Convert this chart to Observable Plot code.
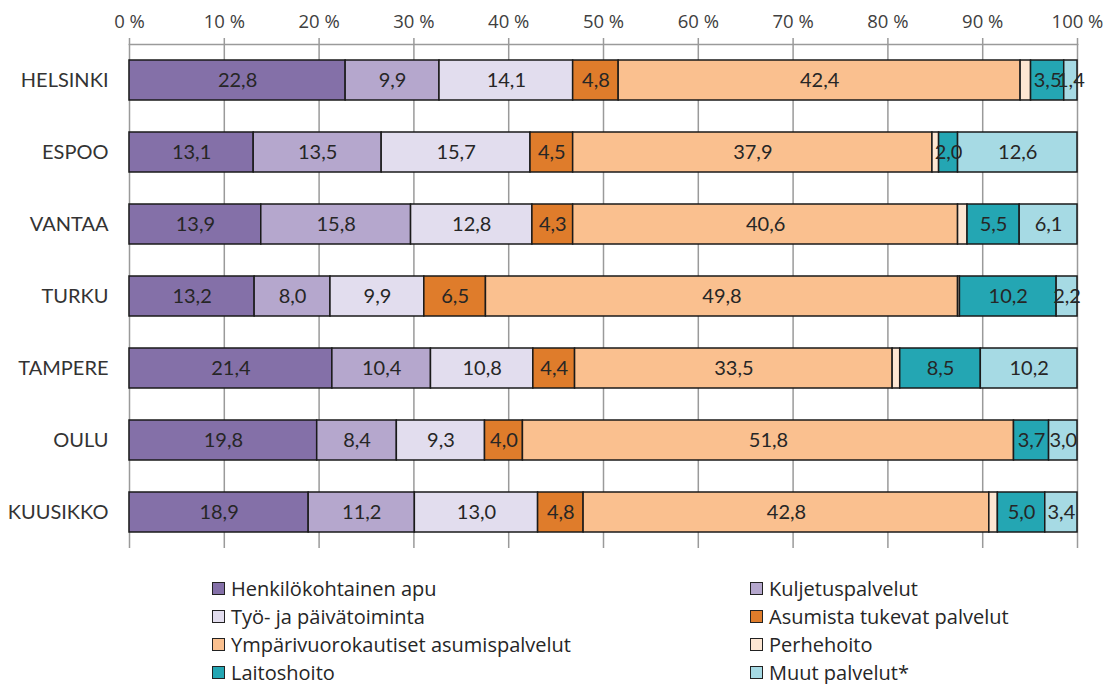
<!DOCTYPE html>
<html>
<head>
<meta charset="utf-8">
<script src="https://cdn.jsdelivr.net/npm/d3@7"></script>
<script src="https://cdn.jsdelivr.net/npm/@observablehq/plot@0.6"></script>
<style>
  body { margin: 0; background: #fff; font-family: Lato, "Open Sans", sans-serif; }
  #wrap { position: relative; width: 1109px; height: 684px; }
  #legend { position: absolute; left: 0; top: 574px; width: 1109px; font-family: "Open Sans", sans-serif; font-size: 20px; color: #262626; }
  .item { position: absolute; display: flex; align-items: center; height: 28px; white-space: nowrap; }
  .sw { width: 11px; height: 11px; border: 1.5px solid #222; margin-right: 6px; box-sizing: content-box; }
  g[aria-label="x-axis tick label"], g[aria-label="x-axis tick label"] text {
    font-size: 18.5px !important; font-family: "Open Sans", sans-serif !important; }
</style>
</head>
<body>
<div id="wrap"><div id="chart"></div><div id="legend"></div></div>
<script>
const cities = ["HELSINKI", "ESPOO", "VANTAA", "TURKU", "TAMPERE", "OULU", "KUUSIKKO"];
const categories = ["Henkilökohtainen apu", "Kuljetuspalvelut", "Työ- ja päivätoiminta", "Asumista tukevat palvelut",
  "Ympärivuorokautiset asumispalvelut", "Perhehoito", "Laitoshoito", "Muut palvelut*"];
const colors = ["#8470A8", "#B5A7CD", "#E2DDEE", "#DF7C2B", "#FAC08F", "#FDE6D2", "#24A6B3", "#A6DAE4"];

const henkilokohtainenApu = [22.8, 13.1, 13.9, 13.2, 21.4, 19.8, 18.9];
const kuljetuspalvelut     = [9.9, 13.5, 15.8, 8.0, 10.4, 8.4, 11.2];
const tyoJaPaivatoiminta   = [14.1, 15.7, 12.8, 9.9, 10.8, 9.3, 13.0];
const asumistaTukevat      = [4.8, 4.5, 4.3, 6.5, 4.4, 4.0, 4.8];
const ymparivuorokautiset  = [42.4, 37.9, 40.6, 49.8, 33.5, 51.8, 42.8];
const perhehoito           = [1.1, 0.7, 1.0, 0.2, 0.8, 0.0, 0.9];
const laitoshoito          = [3.5, 2.0, 5.5, 10.2, 8.5, 3.7, 5.0];
const muutPalvelut         = [1.4, 12.6, 6.1, 2.2, 10.2, 3.0, 3.4];
const xTicks = [0, 10, 20, 30, 40, 50, 60, 70, 80, 90, 100];

const series = [henkilokohtainenApu, kuljetuspalvelut, tyoJaPaivatoiminta, asumistaTukevat,
  ymparivuorokautiset, perhehoito, laitoshoito, muutPalvelut];

const rows = [];
cities.forEach((c, i) => series.forEach((s, k) => rows.push({city: c, cat: categories[k], value: s[i]})));

const fmt = v => d3.format(".1f")(v).replace(".", ",");
const stackOpts = {y: "city", x: "value", z: "cat", order: categories};

const chart = Plot.plot({
  width: 1109,
  height: 552,
  marginLeft: 129,
  marginRight: 32,
  marginTop: 44,
  marginBottom: 4,
  style: {fontFamily: "Lato, 'Open Sans', sans-serif", background: "#fff"},
  x: {domain: [0, 100], ticks: xTicks, axis: null, label: null},
  y: {domain: cities, paddingInner: 0.444, paddingOuter: 0.222, axis: null, label: null},
  color: {domain: categories, range: colors},
  marks: [
    Plot.gridX(xTicks, {stroke: "#9a9a9a", strokeOpacity: 1, strokeWidth: 1.5}),
    Plot.frame({anchor: "top", stroke: "#9a9a9a", strokeWidth: 1.5}),
    Plot.axisX({anchor: "top", ticks: xTicks, tickSize: 7, tickPadding: 10, stroke: "#9a9a9a", label: null,
      tickFormat: d => d + " %", fontSize: 19, fill: "#404040", strokeWidth: 1.5}),
    Plot.axisY({tickSize: 0, tickPadding: 21, fontSize: 20, fill: "#333", label: null}),
    Plot.barX(rows, Plot.stackX({...stackOpts, fill: "cat", stroke: "#1a1a1a", strokeWidth: 1.5})),
    Plot.text(rows, Plot.stackX({...stackOpts,
      text: d => d.cat === "Perhehoito" ? null : fmt(d.value), fontSize: 20, fill: "#262626"}))
  ]
});
document.getElementById("chart").appendChild(chart);

const legend = document.getElementById("legend");
categories.forEach((c, k) => {
  const col = k % 2, row = Math.floor(k / 2);
  const el = document.createElement("div");
  el.className = "item";
  el.style.left = (col === 0 ? 212 : 750) + "px";
  el.style.top = (row * 28) + "px";
  el.innerHTML = `<span class="sw" style="background:${colors[k]}"></span><span>${c}</span>`;
  legend.appendChild(el);
});
</script>
</body>
</html>
